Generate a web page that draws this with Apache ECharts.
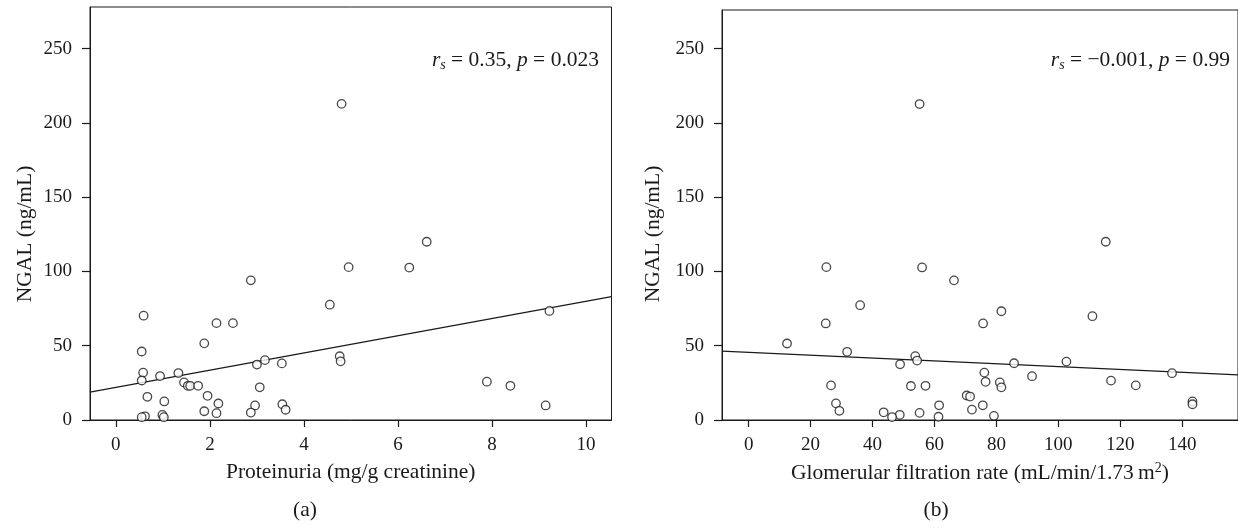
<!DOCTYPE html>
<html>
<head>
<meta charset="utf-8">
<script src="https://cdn.jsdelivr.net/npm/echarts@6/dist/echarts.min.js"></script>
<style>
html,body{margin:0;padding:0;background:#fff;}
#chart{width:1238px;height:531px;}
</style>
</head>
<body>
<div id="chart"></div>
<script>
// Panel (a): Proteinuria vs NGAL
const proteinuria = [4.80,6.61,4.95,6.24,2.87,4.55,9.22,0.59,2.14,2.49,1.88,0.55,4.76,4.78,3.17,3.00,3.53,0.58,1.33,0.94,0.55,7.89,1.45,1.53,1.58,1.75,8.39,3.06,1.95,0.67,1.03,2.18,3.54,2.96,9.14,3.61,1.88,2.87,2.14,0.99,0.62,0.55,1.02];
const ngalA =       [212.8,120.0,102.9,102.6,94.0,77.6,73.4,70.2,65.2,65.2,51.6,46.1,42.9,39.5,40.3,37.3,38.1,31.9,31.6,29.6,26.6,25.8,25.3,23.0,23.0,23.0,23.0,22.0,16.3,15.6,12.5,11.1,10.6,9.8,9.8,6.9,5.9,5.0,4.6,3.4,2.5,1.9,1.9];
// Panel (b): GFR vs NGAL
const gfr =   [55.2,115.3,25.1,56.0,66.3,36.0,81.6,111.0,24.9,75.7,12.4,31.8,53.8,54.4,102.6,85.7,48.9,76.1,136.7,91.5,117.0,76.5,81.1,81.6,26.6,52.4,57.1,125.0,70.4,71.5,28.2,143.3,143.3,61.5,75.6,29.3,72.1,43.6,55.2,48.8,46.3,61.3,79.2];
const ngalB = [212.7,120.0,102.9,102.7,94.0,77.3,73.2,69.9,65.0,65.0,51.5,45.9,43.0,40.0,39.3,38.2,37.5,31.9,31.5,29.5,26.5,25.7,25.3,22.0,23.3,22.9,23.0,23.3,16.5,15.8,11.2,12.5,10.6,9.9,9.9,6.2,7.0,5.2,4.8,3.5,2.0,2.2,2.8];
// Regression lines [intercept, slope]
const fitA = [21.9, 5.8];
const fitB = [45.6, -0.096];
// Ticks
const yTicks = [0,50,100,150,200,250];
const xTicksA = [0,2,4,6,8,10];
const xTicksB = [0,20,40,60,80,100,120,140];
const xRangeA = [-0.55, 10.54];
const xRangeB = [-8.6, 158];
const yMaxA = 278;
const yMaxB = 276;
// Texts
const yTitle = 'NGAL (ng/mL)';
const xTitleA = 'Proteinuria (mg/g creatinine)';
const xTitleB = 'Glomerular filtration rate (mL/min/1.73\u2009m{sup|2})';
const statA = '{it|r}{sub|s} = 0.35, {it|p} = 0.023';
const statB = '{it|r}{sub|s} = \u22120.001, {it|p} = 0.99';

const FONT = '"Liberation Serif", "DejaVu Serif", serif';
const INK = '#1a1a1a';
const TICK_FS = 19;
const TITLE_FS = 21.5;

function pairs(xs, ys){ return xs.map((x,i)=>[x, ys[i]]); }
function fitLine(fit, range){ return range.map(x=>[x, fit[0] + fit[1]*x]); }

function xAxisCfg(idx, range, ticks, name, rich){
  return {
    type:'value', gridIndex: idx, min: range[0], max: range[1],
    axisLine:{show:true, onZero:false, lineStyle:{color:INK, width:1}},
    axisTick:{show:true, length:7, inside:false, customValues: ticks, lineStyle:{color:INK, width:1.2}},
    axisLabel:{customValues: ticks, margin:16, fontFamily:FONT, fontSize:TICK_FS, color:INK},
    splitLine:{show:false},
    name: name, nameLocation:'middle', nameGap:41,
    nameTextStyle:{fontFamily:FONT, fontSize:TITLE_FS, color:INK, rich: rich || {}}
  };
}
function yAxisCfg(idx, max){
  return {
    type:'value', gridIndex: idx, min:0, max:max,
    axisLine:{show:true, onZero:false, lineStyle:{color:INK, width:1}},
    axisTick:{show:true, length:8, inside:false, customValues: yTicks, lineStyle:{color:INK, width:1.2}},
    axisLabel:{customValues: yTicks, margin:18, fontFamily:FONT, fontSize:TICK_FS, color:INK},
    splitLine:{show:false}
  };
}
function statRich(){
  return {
    it:{fontFamily:FONT, fontSize:TITLE_FS, fontStyle:'italic', fill:INK},
    sub:{fontFamily:FONT, fontSize:14, fontStyle:'italic', fill:INK, padding:[10,0,0,0]}
  };
}

const chart = echarts.init(document.getElementById('chart'), null, {renderer:'canvas'});
const scatterStyle = {color:'#fff', borderColor:INK, borderWidth:1.3};
const option = {
  backgroundColor:'#fff',
  animation:false,
  grid:[
    {left:90, top:7, width:521.5, height:413, show:true, borderColor:INK, borderWidth:1, backgroundColor:'transparent'},
    {left:722, top:10, width:518, height:410, show:true, borderColor:INK, borderWidth:1, backgroundColor:'transparent'}
  ],
  xAxis:[
    xAxisCfg(0, xRangeA, xTicksA, xTitleA),
    xAxisCfg(1, xRangeB, xTicksB, xTitleB,
      {sup:{fontFamily:FONT, fontSize:14, color:INK, padding:[0,0,11,0]}})
  ],
  yAxis:[ yAxisCfg(0, yMaxA), yAxisCfg(1, yMaxB) ],
  series:[
    {type:'line', xAxisIndex:0, yAxisIndex:0, data: fitLine(fitA, xRangeA), symbol:'none',
     lineStyle:{color:INK, width:1.2}, z:1, silent:true},
    {type:'scatter', xAxisIndex:0, yAxisIndex:0, data: pairs(proteinuria, ngalA), symbol:'circle', symbolSize:8.5,
     itemStyle:scatterStyle, z:2},
    {type:'line', xAxisIndex:1, yAxisIndex:1, data: fitLine(fitB, xRangeB), symbol:'none',
     lineStyle:{color:INK, width:1.2}, z:1, silent:true},
    {type:'scatter', xAxisIndex:1, yAxisIndex:1, data: pairs(gfr, ngalB), symbol:'circle', symbolSize:8.5,
     itemStyle:scatterStyle, z:2}
  ],
  graphic:[
    {type:'text', x:25, y:234, rotation:Math.PI/2, style:{text:yTitle, fontFamily:FONT, fontSize:TITLE_FS, fill:INK, align:'center', verticalAlign:'middle'}},
    {type:'text', x:653, y:234, rotation:Math.PI/2, style:{text:yTitle, fontFamily:FONT, fontSize:TITLE_FS, fill:INK, align:'center', verticalAlign:'middle'}},
    {type:'text', right:1238-599, top:49, style:{text:statA, fontFamily:FONT, fontSize:TITLE_FS, fill:INK, rich:statRich()}},
    {type:'text', right:1238-1230, top:49, style:{text:statB, fontFamily:FONT, fontSize:TITLE_FS, fill:INK, rich:statRich()}},
    {type:'text', x:305, y:510, style:{text:'(a)', fontFamily:FONT, fontSize:TITLE_FS, fill:INK, align:'center', verticalAlign:'middle'}},
    {type:'text', x:936, y:510, style:{text:'(b)', fontFamily:FONT, fontSize:TITLE_FS, fill:INK, align:'center', verticalAlign:'middle'}}
  ]
};
chart.setOption(option);
</script>
</body>
</html>
